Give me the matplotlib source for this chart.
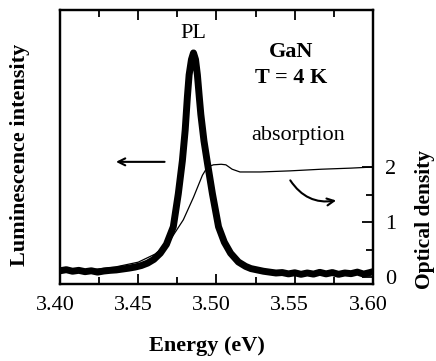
import numpy as np
import matplotlib.pyplot as plt
from matplotlib.transforms import ScaledTranslation

# Data
# PL spectrum (left axis, arbitrary units, peak ~1)
pl_energy = [3.400, 3.404, 3.408, 3.412, 3.416, 3.420, 3.424, 3.428, 3.432, 3.436,
             3.440, 3.444, 3.448, 3.452, 3.456, 3.460, 3.4641, 3.468, 3.4724, 3.4756,
             3.4782, 3.4800, 3.4814, 3.4825, 3.4840, 3.4853, 3.4866, 3.4878, 3.4890,
             3.4900, 3.4920, 3.4942, 3.4974, 3.5013, 3.5050, 3.5090, 3.5140, 3.5186,
             3.522, 3.526, 3.530, 3.534, 3.538, 3.542, 3.546, 3.550, 3.554, 3.558,
             3.562, 3.566, 3.570, 3.574, 3.578, 3.582, 3.586, 3.590, 3.594, 3.598, 3.600]
pl_int = [0.010, 0.015, 0.008, 0.012, 0.006, 0.010, 0.004, 0.009, 0.012, 0.014,
          0.018, 0.022, 0.027, 0.034, 0.045, 0.062, 0.090, 0.130, 0.210, 0.360,
          0.510, 0.650, 0.800, 0.900, 0.970, 1.000, 0.970, 0.900, 0.800,
          0.720, 0.600, 0.500, 0.360, 0.210, 0.140, 0.090, 0.050, 0.030,
          0.020, 0.014, 0.008, 0.004, 0.000, 0.002, -0.004, 0.001, -0.006, 0.000,
          -0.005, 0.003, -0.004, 0.002, -0.006, 0.000, -0.003, 0.004, -0.005, 0.002, 0.006]

# Absorption (right axis, optical density)
abs_energy = [3.400, 3.420, 3.435, 3.450, 3.461, 3.4692, 3.4788, 3.4853, 3.4910, 3.4942,
              3.498, 3.503, 3.506, 3.510, 3.515, 3.528, 3.547, 3.567, 3.586, 3.600]
abs_od = [0.09, 0.13, 0.18, 0.27, 0.42, 0.62, 1.04, 1.45, 1.85, 2.00,
          2.04, 2.05, 2.04, 1.96, 1.91, 1.91, 1.93, 1.96, 1.98, 2.00]

plt.rcParams['font.family'] = ['Liberation Serif', 'DejaVu Serif']

fig = plt.figure(figsize=(4.36, 3.61), dpi=100)
ax = fig.add_axes([0.1376, 0.2133, 0.7179, 0.759])
ax2 = ax.twinx()

ax.plot(pl_energy, pl_int, color='black', lw=5, solid_capstyle='round',
        solid_joinstyle='round', zorder=3)
ax2.plot(abs_energy, abs_od, color='black', lw=0.9, zorder=2)

ax.set_xlim(3.40, 3.60)
ax.set_ylim(-0.05, 1.195)
ax2.set_ylim(-0.127, 4.855)

ax.set_xticks([3.40, 3.45, 3.50, 3.55, 3.60])
ax.set_xticklabels(['3.40', '3.45', '3.50', '3.55', '3.60'])
ax.set_xticks([3.425, 3.475, 3.525, 3.575], minor=True)
ax.tick_params(axis='x', which='both', direction='in', top=True, labelsize=16, pad=9,
               width=1.3)
ax.tick_params(axis='x', which='major', length=7)
ax.tick_params(axis='x', which='minor', length=5)
ax.tick_params(axis='y', which='both', left=False, labelleft=False)

ax2.set_yticks([0, 1, 2])
ax2.set_yticks([0.5, 1.5], minor=True)
ax2.tick_params(axis='y', which='both', direction='in', labelsize=16, pad=9, width=1.3)
ax2.tick_params(axis='y', which='major', length=8)
ax2.tick_params(axis='y', which='minor', length=5)

for a in (ax, ax2):
    for s in a.spines.values():
        s.set_linewidth(1.6)

# tick labels in the scan sit a little left of their ticks
off = ScaledTranslation(-5 / 100, 0, fig.dpi_scale_trans)
for lab in ax.get_xticklabels():
    lab.set_transform(lab.get_transform() + off)

# annotations
ax.text(3.4853, 1.086, 'PL', fontsize=16, ha='center', va='center')
ax.text(3.5474, 1.005, 'GaN', fontsize=16, fontweight='bold', ha='center', va='center')
ax.text(3.548, 0.886, 'T = 4 K', fontsize=16, fontweight='bold', ha='center', va='center')
ax.text(3.552, 0.623, 'absorption', fontsize=16, ha='center', va='center')

ax.annotate('', xy=(3.434, 0.505), xytext=(3.4686, 0.505),
            arrowprops=dict(arrowstyle='->,head_length=0.5,head_width=0.25', lw=1.5,
                            color='black'))
ax2.annotate('', xy=(3.5782, 1.40), xytext=(3.5462, 1.80),
             arrowprops=dict(arrowstyle='->,head_length=0.5,head_width=0.25', lw=1.5,
                             color='black', connectionstyle='arc3,rad=0.35'))

fig.text(0.046, 0.571, 'Luminescence intensity', rotation=90, fontsize=16,
         fontweight='bold', ha='center', va='center')
fig.text(0.974, 0.391, 'Optical density', rotation=90, fontsize=15.5,
         fontweight='bold', ha='center', va='center')
fig.text(0.475, 0.042, 'Energy (eV)', fontsize=16, fontweight='bold',
         ha='center', va='center')

fig.savefig('out.png', dpi=100)
